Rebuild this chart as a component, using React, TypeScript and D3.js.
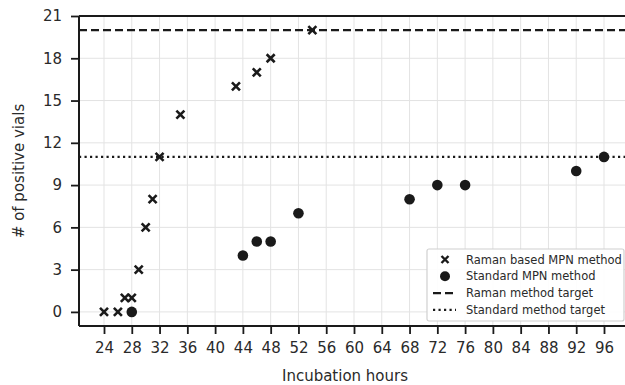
import * as React from "react";
import { useEffect, useRef } from "react";
import * as d3 from "d3";

const ramanHours = [24, 26, 27, 28, 29, 30, 31, 32, 35, 43, 46, 48, 54];
const ramanVials = [0, 0, 1, 1, 3, 6, 8, 11, 14, 16, 17, 18, 20];
const standardHours = [28, 44, 46, 48, 52, 68, 72, 76, 92, 96];
const standardVials = [0, 4, 5, 5, 7, 8, 9, 9, 10, 11];
const xTicks = [24, 28, 32, 36, 40, 44, 48, 52, 56, 60, 64, 68, 72, 76, 80, 84, 88, 92, 96];
const yTicks = [0, 3, 6, 9, 12, 15, 18, 21];
const ramanTarget = 20;
const standardTarget = 11;
const legendItems = [
  "Raman based MPN method",
  "Standard MPN method",
  "Raman method target",
  "Standard method target",
];

const W = 625;
const H = 385;
const FONT = "DejaVu Sans, sans-serif";
const INK = "#1a1a1a";
const DASH = "8,4";
const DOT = "2.2,3.3";

export default function App() {
  const svgRef = useRef<SVGSVGElement>(null);

  useEffect(() => {
    if (!svgRef.current) return;
    const svg = d3.select(svgRef.current);
    svg.selectAll("*").remove();

    const margin = { top: 16, right: -4, bottom: 59, left: 79 };
    const x = d3.scaleLinear().domain([20.4, 99.6]).range([margin.left, W - margin.right]);
    const y = d3.scaleLinear().domain([-1, 21]).range([H - margin.bottom, margin.top]);

    // grid
    const grid = svg.append("g");
    grid.selectAll("line.gx")
      .data(xTicks)
      .join("line")
      .attr("x1", d => x(d)).attr("x2", d => x(d))
      .attr("y1", y(-1)).attr("y2", y(21))
      .attr("stroke", "#e3e3e3").attr("stroke-width", 1);
    grid.selectAll("line.gy")
      .data(yTicks)
      .join("line")
      .attr("y1", d => y(d)).attr("y2", d => y(d))
      .attr("x1", x(20.4)).attr("x2", x(99.6))
      .attr("stroke", "#e3e3e3").attr("stroke-width", 1);

    // target lines
    svg.append("line")
      .attr("x1", x(20.4)).attr("x2", x(99.6))
      .attr("y1", y(ramanTarget)).attr("y2", y(ramanTarget))
      .attr("stroke", INK).attr("stroke-width", 2.4)
      .attr("stroke-dasharray", DASH);
    svg.append("line")
      .attr("x1", x(20.4)).attr("x2", x(99.6))
      .attr("y1", y(standardTarget)).attr("y2", y(standardTarget))
      .attr("stroke", INK).attr("stroke-width", 2.4)
      .attr("stroke-dasharray", DOT);

    // axes
    const xAxis = svg.append("g")
      .attr("transform", `translate(0,${y(-1)})`)
      .call(d3.axisBottom(x).tickValues(xTicks).tickSize(8).tickPadding(8));
    const yAxis = svg.append("g")
      .attr("transform", `translate(${x(20.4)},0)`)
      .call(d3.axisLeft(y).tickValues(yTicks).tickSize(8).tickPadding(9));
    [xAxis, yAxis].forEach(a => {
      a.select(".domain").attr("stroke", INK).attr("stroke-width", 2);
      a.selectAll(".tick line").attr("stroke", INK).attr("stroke-width", 1.8);
      a.selectAll(".tick text")
        .attr("fill", "#2a2a2a")
        .style("font-family", FONT)
        .style("font-size", "15px");
    });
    yAxis.select(".domain").attr("d", `M0,${y(-1)}V${y(21)}`);
    xAxis.select(".domain").attr("d", `M${x(20.4)},0H${x(99.6)}`);

    // top spine
    svg.append("line")
      .attr("x1", x(20.4)).attr("x2", x(99.6))
      .attr("y1", y(21)).attr("y2", y(21))
      .attr("stroke", INK).attr("stroke-width", 2);

    // markers
    const xr = 4;
    const ramanData = ramanHours.map((h, i) => [h, ramanVials[i]]);
    const standardData = standardHours.map((h, i) => [h, standardVials[i]]);

    svg.append("g")
      .selectAll("circle")
      .data(standardData)
      .join("circle")
      .attr("cx", d => x(d[0]))
      .attr("cy", d => y(d[1]))
      .attr("r", 5.3)
      .attr("fill", INK);

    svg.append("g")
      .selectAll("path")
      .data(ramanData)
      .join("path")
      .attr("d", d => {
        const cx = x(d[0]);
        const cy = y(d[1]);
        return `M${cx - xr},${cy - xr}L${cx + xr},${cy + xr}M${cx - xr},${cy + xr}L${cx + xr},${cy - xr}`;
      })
      .attr("stroke", INK)
      .attr("stroke-width", 2.6)
      .attr("fill", "none");

    // axis labels
    svg.append("text")
      .attr("x", 345).attr("y", 381)
      .attr("text-anchor", "middle")
      .attr("fill", "#2a2a2a")
      .style("font-family", FONT).style("font-size", "15px")
      .text("Incubation hours");
    svg.append("text")
      .attr("transform", `translate(24,${y(10)}) rotate(-90)`)
      .attr("text-anchor", "middle")
      .attr("fill", "#2a2a2a")
      .style("font-family", FONT).style("font-size", "15px")
      .text("# of positive vials");

    // legend
    const lg = svg.append("g").attr("transform", "translate(427,249)");
    lg.append("rect")
      .attr("x", 0).attr("y", 0).attr("width", 197).attr("height", 72)
      .attr("rx", 2)
      .attr("fill", "white").attr("fill-opacity", 0.9)
      .attr("stroke", "#d0d0d0").attr("stroke-width", 1.2);
    const rowY = (i: number) => 10.5 + i * 16.8;
    lg.selectAll("text")
      .data(legendItems)
      .join("text")
      .attr("x", 39)
      .attr("y", (_, i) => rowY(i))
      .attr("dy", "0.35em")
      .attr("fill", "#2a2a2a")
      .style("font-family", FONT)
      .style("font-size", "11.5px")
      .text(d => d);
    const mx = 18;
    const lr = 3.5;
    lg.append("path")
      .attr("d", `M${mx - lr},${rowY(0) - lr}L${mx + lr},${rowY(0) + lr}M${mx - lr},${rowY(0) + lr}L${mx + lr},${rowY(0) - lr}`)
      .attr("stroke", INK).attr("stroke-width", 2.4);
    lg.append("circle").attr("cx", mx).attr("cy", rowY(1)).attr("r", 5).attr("fill", INK);
    lg.append("line")
      .attr("x1", 6).attr("x2", 29).attr("y1", rowY(2)).attr("y2", rowY(2))
      .attr("stroke", INK).attr("stroke-width", 2.4).attr("stroke-dasharray", DASH);
    lg.append("line")
      .attr("x1", 6).attr("x2", 29).attr("y1", rowY(3)).attr("y2", rowY(3))
      .attr("stroke", INK).attr("stroke-width", 2.4).attr("stroke-dasharray", DOT);
  }, []);

  return (
    <svg
      ref={svgRef}
      width={W}
      height={H}
      style={{ position: "absolute", left: 0, top: 0, background: "white" }}
    />
  );
}
